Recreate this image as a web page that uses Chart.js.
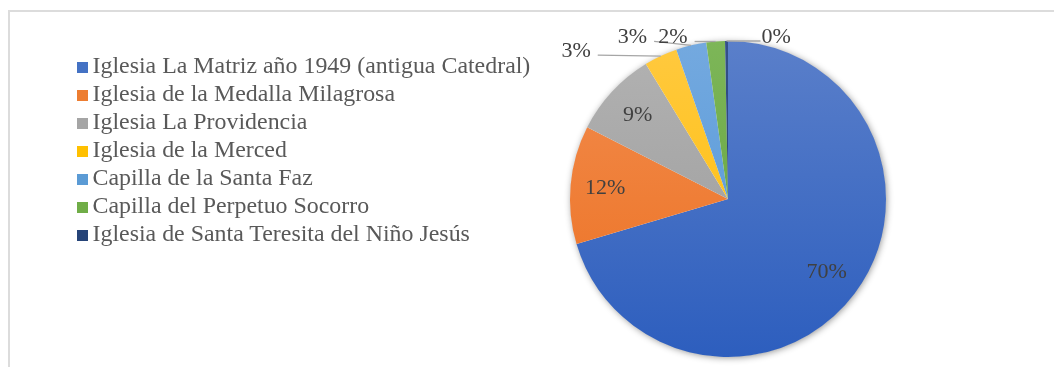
<!DOCTYPE html>
<html>
<head>
<meta charset="utf-8">
<script src="https://cdn.jsdelivr.net/npm/chart.js@4/dist/chart.umd.min.js"></script>
<style>
    body { margin: 0; background: #fff; }
    #wrap { position: relative; width: 1054px; height: 367px; overflow: hidden; }
    #marco {
        position: absolute; left: 8px; top: 10px; right: -10px; bottom: -10px;
        border-top: 2px solid #dcdcdc; border-left: 2px solid #dcdcdc;
    }
    #myChart { position: absolute; left: 0; top: 0; }
    #leyenda {
        position: absolute; left: 77px; top: 51px; margin: 0; padding: 0; list-style: none;
        font-family: "Liberation Serif", "Times New Roman", serif; font-size: 23.9px;
        line-height: 28px; color: #595959; white-space: nowrap;
    }
    #leyenda .caja { display: inline-block; width: 11px; height: 11px; margin-right: 4.5px; vertical-align: baseline; }
</style>
</head>
<body>
<div id="wrap">
    <div id="marco"></div>
    <canvas id="myChart" width="1054" height="367"></canvas>
    <ul id="leyenda"></ul>
</div>
<script>
const iglesias = [
    'Iglesia La Matriz año 1949 (antigua Catedral)',
    'Iglesia de la Medalla Milagrosa',
    'Iglesia La Providencia',
    'Iglesia de la Merced',
    'Capilla de la Santa Faz',
    'Capilla del Perpetuo Socorro',
    'Iglesia de Santa Teresita del Niño Jesús'
];
const valores = [70.4, 12.1, 8.8, 3.4, 3.1, 1.9, 0.3];

// flat colour for the legend boxes, lighter/darker ends for the slice gradients
const colores = ['#4472c4', '#ed7d31', '#a5a5a5', '#ffc000', '#5b9bd5', '#70ad47', '#264478'];
const coloresArriba = ['#5a7fca', '#f28c4e', '#b2b2b2', '#ffc93f', '#74a9df', '#7db658', '#34508a'];
const coloresAbajo = ['#2d5ebe', '#ec7020', '#999999', '#ffbd00', '#4d95d8', '#5f9f3a', '#1f3864'];

// leader lines for the small slices: offset from the slice edge to the label
const guias = [null, null, null, [-63, -1], [-37, -4], [-21, 0], [34, 0]];

function degradado(context) {
    const chart = context.chart;
    const area = chart.chartArea;
    const i = context.dataIndex;
    if (!area) return colores[i];
    const g = chart.ctx.createLinearGradient(0, area.top, 0, area.bottom);
    g.addColorStop(0, coloresArriba[i]);
    g.addColorStop(1, coloresAbajo[i]);
    return g;
}

const sombra = {
    id: 'sombra',
    beforeDatasetsDraw(chart) {
        const arc = chart.getDatasetMeta(0).data[0];
        if (!arc) return;
        const {x, y, outerRadius} = arc.getProps(['x', 'y', 'outerRadius'], true);
        const ctx = chart.ctx;
        ctx.save();
        ctx.shadowColor = 'rgba(0,0,0,0.45)';
        ctx.shadowBlur = 7;
        ctx.shadowOffsetX = 1;
        ctx.shadowOffsetY = 1;
        ctx.fillStyle = '#fff';
        ctx.beginPath();
        ctx.arc(x, y, outerRadius - 0.5, 0, Math.PI * 2);
        ctx.fill();
        ctx.restore();
    }
};

const etiquetas = {
    id: 'etiquetas',
    afterDatasetsDraw(chart) {
        const ctx = chart.ctx;
        const meta = chart.getDatasetMeta(0);
        const total = valores.reduce((a, b) => a + b, 0);
        ctx.save();
        ctx.font = '22px "Liberation Serif", "Times New Roman", serif';
        ctx.fillStyle = '#404040';
        meta.data.forEach((arc, i) => {
            const {x, y, startAngle, endAngle, outerRadius} =
                arc.getProps(['x', 'y', 'startAngle', 'endAngle', 'outerRadius'], true);
            const mid = (startAngle + endAngle) / 2;
            const texto = Math.round(valores[i] / total * 100) + '%';
            const off = guias[i];
            if (!off) {
                ctx.textAlign = 'center';
                ctx.textBaseline = 'middle';
                ctx.fillText(texto, x + Math.cos(mid) * outerRadius * 0.78, y + Math.sin(mid) * outerRadius * 0.78);
                return;
            }
            const ax = x + Math.cos(mid) * outerRadius;
            const ay = y + Math.sin(mid) * outerRadius;
            const ex = ax + off[0];
            const ey = ay + off[1];
            ctx.strokeStyle = '#a6a6a6';
            ctx.lineWidth = 1.3;
            ctx.beginPath();
            ctx.moveTo(ax, ay);
            ctx.lineTo(ex, ey);
            ctx.stroke();
            ctx.textBaseline = 'alphabetic';
            if (off[0] < 0) {
                ctx.textAlign = 'right';
                ctx.fillText(texto, ex - 7, ey + 1.5);
            } else {
                ctx.textAlign = 'left';
                ctx.fillText(texto, ex + 1, ey + 1.5);
            }
        });
        ctx.restore();
    }
};

const leyendaHtml = {
    id: 'leyendaHtml',
    afterUpdate(chart) {
        const ul = document.getElementById('leyenda');
        ul.innerHTML = '';
        chart.data.labels.forEach((nombre, i) => {
            const li = document.createElement('li');
            const caja = document.createElement('span');
            caja.className = 'caja';
            caja.style.background = colores[i];
            li.appendChild(caja);
            li.appendChild(document.createTextNode(nombre));
            ul.appendChild(li);
        });
    }
};

function createChart() {
    let ctx = document.getElementById('myChart').getContext('2d');
    new Chart(ctx, {
        type: 'pie',
        data: {
            labels: iglesias,
            datasets: [{
                data: valores,
                backgroundColor: degradado,
                borderWidth: 0
            }]
        },
        options: {
            responsive: false,
            animation: false,
            layout: { padding: { left: 570, right: 168, top: 41, bottom: 10 } },
            plugins: {
                legend: { display: false },
                tooltip: { enabled: false }
            }
        },
        plugins: [sombra, etiquetas, leyendaHtml]
    });
}

createChart();
</script>
</body>
</html>
